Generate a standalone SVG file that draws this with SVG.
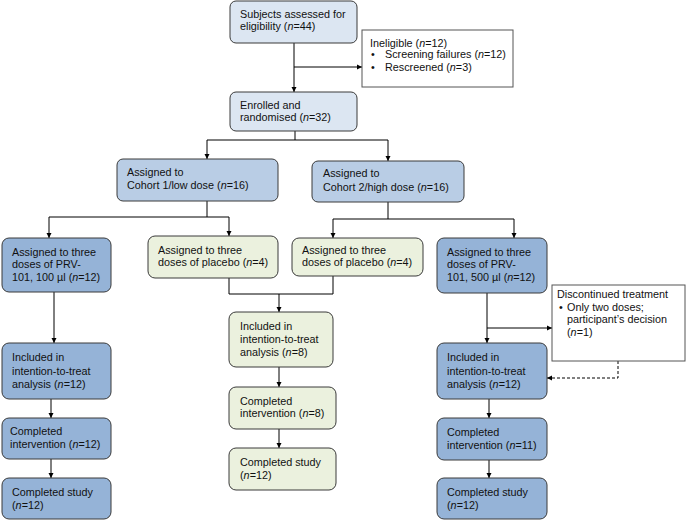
<svg xmlns="http://www.w3.org/2000/svg" width="686" height="520" viewBox="0 0 686 520">
<defs>
<marker id="ah" viewBox="0 0 10 10" refX="10" refY="5" markerWidth="5" markerHeight="6" orient="auto" markerUnits="userSpaceOnUse">
<path d="M0,0 L10,5 L0,10 z" fill="#000"/>
</marker>
</defs>
<style>
text{font-family:"Liberation Sans",Arial,sans-serif;font-size:10.8px;fill:#111}
.b{stroke:#3a3a3a;stroke-width:1}
.l1{fill:#dce6f2}
.l2{fill:#b9cde5}
.d{fill:#95b3d7}
.g{fill:#ebf1de}
.w{fill:#fff;stroke:#555;stroke-width:1}
.c{fill:none;stroke:#000;stroke-width:1}
.da{stroke-dasharray:3,2}
</style>
<rect width="686" height="520" fill="#fff"/>
<g id="connectors">
<path class="c" d="M294,43 V92" marker-end="url(#ah)"/>
<path class="c" d="M294,67 H362" marker-end="url(#ah)"/>
<path class="c" d="M295,131 V140 M207,140 H388"/>
<path class="c" d="M207,140 V159" marker-end="url(#ah)"/>
<path class="c" d="M388,140 V161" marker-end="url(#ah)"/>
<path class="c" d="M207,201 V217 M49,217 H229"/>
<path class="c" d="M49,217 V238" marker-end="url(#ah)"/>
<path class="c" d="M229,217 V236" marker-end="url(#ah)"/>
<path class="c" d="M388,202 V219 M333,219 H514"/>
<path class="c" d="M333,219 V238" marker-end="url(#ah)"/>
<path class="c" d="M514,219 V238" marker-end="url(#ah)"/>
<path class="c" d="M54,292 V343" marker-end="url(#ah)"/>
<path class="c" d="M229,278 V294 H333 V276"/>
<path class="c" d="M279,294 V312" marker-end="url(#ah)"/>
<path class="c" d="M487,293 V343" marker-end="url(#ah)"/>
<path class="c" d="M487,328 H552" marker-end="url(#ah)"/>
<path class="c da" d="M618,361 V378 H547" marker-end="url(#ah)"/>
<path class="c" d="M51,399 V418" marker-end="url(#ah)"/>
<path class="c" d="M51,459 V478" marker-end="url(#ah)"/>
<path class="c" d="M279,367 V387" marker-end="url(#ah)"/>
<path class="c" d="M279,429 V448" marker-end="url(#ah)"/>
<path class="c" d="M489,399 V418" marker-end="url(#ah)"/>
<path class="c" d="M489,460 V478" marker-end="url(#ah)"/>
</g>
<g id="assessed">
<rect class="b l1" x="230" y="1" width="127" height="42" rx="6"/>
<text x="240" y="18">Subjects assessed for</text>
<text x="240" y="30">eligibility (<tspan font-style="italic">n</tspan>=44)</text>
</g>
<g id="ineligible">
<rect class="w" x="362" y="30" width="151" height="57"/>
<text x="370" y="47">Ineligible (<tspan font-style="italic">n</tspan>=12)</text>
<text x="371" y="58">•</text><text x="385" y="58">Screening failures (<tspan font-style="italic">n</tspan>=12)</text>
<text x="371" y="71">•</text><text x="385" y="71">Rescreened (<tspan font-style="italic">n</tspan>=3)</text>
</g>
<g id="enrolled">
<rect class="b l1" x="230" y="92" width="127" height="39" rx="6"/>
<text x="240" y="109">Enrolled and</text>
<text x="240" y="121">randomised (<tspan font-style="italic">n</tspan>=32)</text>
</g>
<g id="cohort1">
<rect class="b l2" x="117" y="159" width="161" height="42" rx="6"/>
<text x="127" y="176">Assigned to</text>
<text x="127" y="189">Cohort 1/low dose (<tspan font-style="italic">n</tspan>=16)</text>
</g>
<g id="cohort2">
<rect class="b l2" x="312" y="161" width="152" height="41" rx="6"/>
<text x="323" y="177">Assigned to</text>
<text x="323" y="191">Cohort 2/high dose (<tspan font-style="italic">n</tspan>=16)</text>
</g>
<g id="prv100">
<rect class="b d" x="2" y="238" width="109" height="54" rx="7"/>
<text x="12" y="256">Assigned to three</text>
<text x="12" y="268">doses of PRV-</text>
<text x="12" y="281">101, 100 µl (<tspan font-style="italic">n</tspan>=12)</text>
</g>
<g id="placebo1">
<rect class="b g" x="148" y="236" width="130" height="42" rx="7"/>
<text x="158" y="254">Assigned to three</text>
<text x="158" y="266">doses of placebo (<tspan font-style="italic">n</tspan>=4)</text>
</g>
<g id="placebo2">
<rect class="b g" x="292" y="238" width="131" height="38" rx="7"/>
<text x="302" y="254">Assigned to three</text>
<text x="302" y="266">doses of placebo (<tspan font-style="italic">n</tspan>=4)</text>
</g>
<g id="prv500">
<rect class="b d" x="437" y="238" width="110" height="55" rx="7"/>
<text x="447" y="256">Assigned to three</text>
<text x="447" y="268">doses of PRV-</text>
<text x="447" y="281">101, 500 µl (<tspan font-style="italic">n</tspan>=12)</text>
</g>
<g id="discontinued">
<rect class="w" x="552" y="285" width="133" height="76"/>
<text x="557" y="298">Discontinued treatment</text>
<text x="559" y="311">•</text><text x="567" y="311">Only two doses;</text>
<text x="567" y="323">participant’s decision</text>
<text x="567" y="336">(<tspan font-style="italic">n</tspan>=1)</text>
</g>
<g id="itt1">
<rect class="b d" x="2" y="343" width="109" height="56" rx="7"/>
<text x="12" y="361">Included in</text>
<text x="12" y="375">intention-to-treat</text>
<text x="12" y="388">analysis (<tspan font-style="italic">n</tspan>=12)</text>
</g>
<g id="itt-placebo">
<rect class="b g" x="229" y="312" width="104" height="55" rx="7"/>
<text x="240" y="330">Included in</text>
<text x="240" y="343">intention-to-treat</text>
<text x="240" y="356">analysis (<tspan font-style="italic">n</tspan>=8)</text>
</g>
<g id="itt2">
<rect class="b d" x="437" y="343" width="110" height="56" rx="7"/>
<text x="447" y="361">Included in</text>
<text x="447" y="375">intention-to-treat</text>
<text x="447" y="388">analysis (<tspan font-style="italic">n</tspan>=12)</text>
</g>
<g id="ci1">
<rect class="b d" x="2" y="418" width="109" height="41" rx="7"/>
<text x="10" y="435">Completed</text>
<text x="10" y="448">intervention (<tspan font-style="italic">n</tspan>=12)</text>
</g>
<g id="ci-placebo">
<rect class="b g" x="229" y="387" width="107" height="42" rx="7"/>
<text x="240" y="405">Completed</text>
<text x="240" y="417">intervention (<tspan font-style="italic">n</tspan>=8)</text>
</g>
<g id="ci2">
<rect class="b d" x="437" y="418" width="110" height="42" rx="7"/>
<text x="447" y="436">Completed</text>
<text x="447" y="449">intervention (<tspan font-style="italic">n</tspan>=11)</text>
</g>
<g id="cs1">
<rect class="b d" x="2" y="478" width="109" height="41" rx="7"/>
<text x="12" y="496">Completed study</text>
<text x="12" y="509">(<tspan font-style="italic">n</tspan>=12)</text>
</g>
<g id="cs-placebo">
<rect class="b g" x="229" y="448" width="107" height="42" rx="7"/>
<text x="240" y="466">Completed study</text>
<text x="240" y="479">(<tspan font-style="italic">n</tspan>=12)</text>
</g>
<g id="cs2">
<rect class="b d" x="437" y="478" width="110" height="41" rx="7"/>
<text x="447" y="496">Completed study</text>
<text x="447" y="509">(<tspan font-style="italic">n</tspan>=12)</text>
</g>
</svg>
